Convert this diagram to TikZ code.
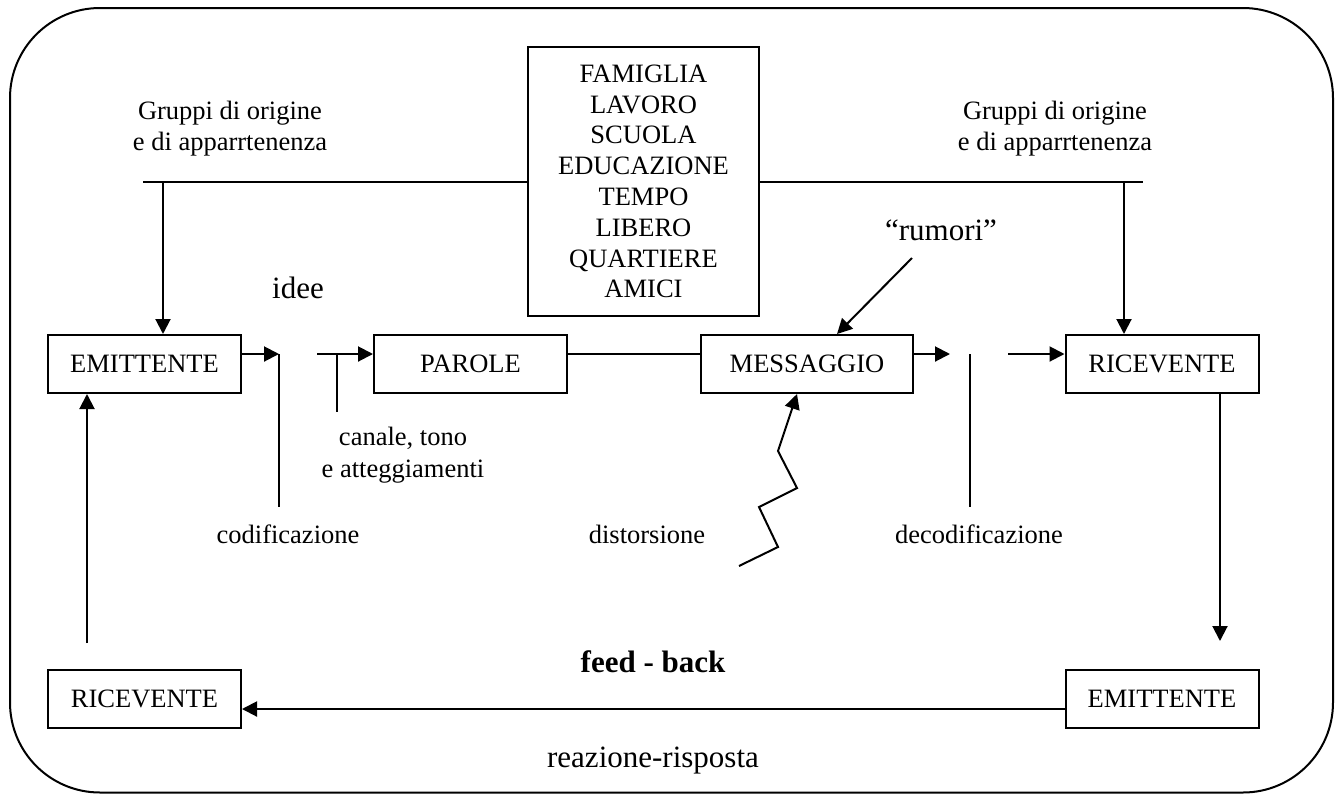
\documentclass[tikz,border=0pt]{standalone}
\usepackage{fontspec}
\setmainfont{Liberation Serif}
\usetikzlibrary{arrows.meta,calc}
\begin{document}
\begin{tikzpicture}[x=0.5pt,y=-0.5pt,
  normalsz/.style={font=\fontsize{13.25}{15.5}\selectfont},
  bigsz/.style={font=\fontsize{15.5}{18}\selectfont},
  box/.style={draw, line width=1pt, minimum width=96.5pt, minimum height=29pt, inner sep=0pt, normalsz},
  lbl/.style={inner sep=0pt, normalsz, align=center},
  biglbl/.style={inner sep=0pt, bigsz, anchor=base},
  conn/.style={line width=1pt},
  arr/.style={conn, -{Triangle[length=7.5pt,width=7.5pt]}},
  frame/.style={line width=1pt, rounded corners=45pt}]
\useasboundingbox (0,0) rectangle (1335,794);
\draw[frame] (10,8) rectangle (1333,792.5);

% boxes
\node[box, minimum width=115.5pt, minimum height=134.5pt, align=center,
      font=\fontsize{13.25}{15.4}\selectfont] (cent) at (643.5,181.5)
  {FAMIGLIA\\LAVORO\\SCUOLA\\EDUCAZIONE\\TEMPO\\LIBERO\\QUARTIERE\\AMICI};
\node[box] (emit1) at (144.5,364) {EMITTENTE};
\node[box] (parole) at (470.5,364) {PAROLE};
\node[box, minimum width=106pt] (mess) at (807,364) {MESSAGGIO};
\node[box] (ric1) at (1162,364) {RICEVENTE};
\node[box] (ric2) at (144.5,699) {RICEVENTE};
\node[box] (emit2) at (1162,699) {EMITTENTE};

% labels
\node[lbl] (gl1) at (230,128.5) {Gruppi di origine\\e di apparrtenenza};
\node[lbl] (gr1) at (1055,128.5) {Gruppi di origine\\e di apparrtenenza};
\node[biglbl] (idee) at (298,298) {idee};
\node[biglbl] (rumori) at (941,240) {“rumori”};
\node[lbl, font=\fontsize{13.25}{16}\selectfont] (canale) at (403,455) {canale, tono\\e atteggiamenti};
\node[lbl, anchor=base] (codif) at (288,543) {codificazione};
\node[lbl, anchor=base] (distor) at (647,543) {distorsione};
\node[lbl, anchor=base] (decod) at (979,543) {decodificazione};
\node[biglbl, font=\fontsize{15.5}{18}\selectfont\bfseries] (feed) at (653,672) {feed - back};
\node[biglbl] (reaz) at (653,767) {reazione-risposta};

% coordinates for free ends
\coordinate (gl) at (143,182);
\coordinate (gld) at (163,182);
\coordinate (gr) at (1143,182);
\coordinate (grd) at (1124,182);
\coordinate (cod) at (279,354);
\coordinate (codb) at (279,507);
\coordinate (can) at (317,354);
\coordinate (cant) at (337,354);
\coordinate (canb) at (337,412);
\coordinate (dec) at (950,354);
\coordinate (dect) at (970,354);
\coordinate (decb) at (970,507);
\coordinate (dec2) at (1008,354);
\coordinate (rum) at (912,258);
\coordinate (z0) at (739,566);
\coordinate (z1) at (778,547);
\coordinate (z2) at (759,507);
\coordinate (z3) at (797,488);
\coordinate (z4) at (778,451);
\coordinate (fb) at (1220,641);
\coordinate (lb) at (87,643);

% connectors
\draw[conn] (gl) -- (gl -| cent.west);
\draw[arr] (gld) -- (gld |- emit1.north);
\draw[conn] (cent.east |- gr) -- (gr);
\draw[arr] (grd) -- (grd |- ric1.north);

\draw[arr] (cod -| emit1.east) -- (cod);
\draw[conn] (cod) -- (codb);
\draw[arr] (can) -- (can -| parole.west);
\draw[conn] (cant) -- (canb);
\draw[conn] (parole.east |- can) -- (mess.west |- can);
\draw[arr] (mess.east |- dec) -- (dec);
\draw[conn] (dect) -- (decb);
\draw[arr] (dec2) -- (dec2 -| ric1.west);

\draw[arr] (rum) -- ([xshift=15pt]mess.north);
\draw[arr] (z0) -- (z1) -- (z2) -- (z3) -- (z4) -- ([xshift=-5pt]mess.south);

\draw[arr] (fb |- ric1.south) -- (fb);
\draw[arr] ([yshift=-5pt]emit2.west) -- ([yshift=-5pt]ric2.east);
\draw[arr] (lb) -- (lb |- emit1.south);
\end{tikzpicture}
\end{document}
